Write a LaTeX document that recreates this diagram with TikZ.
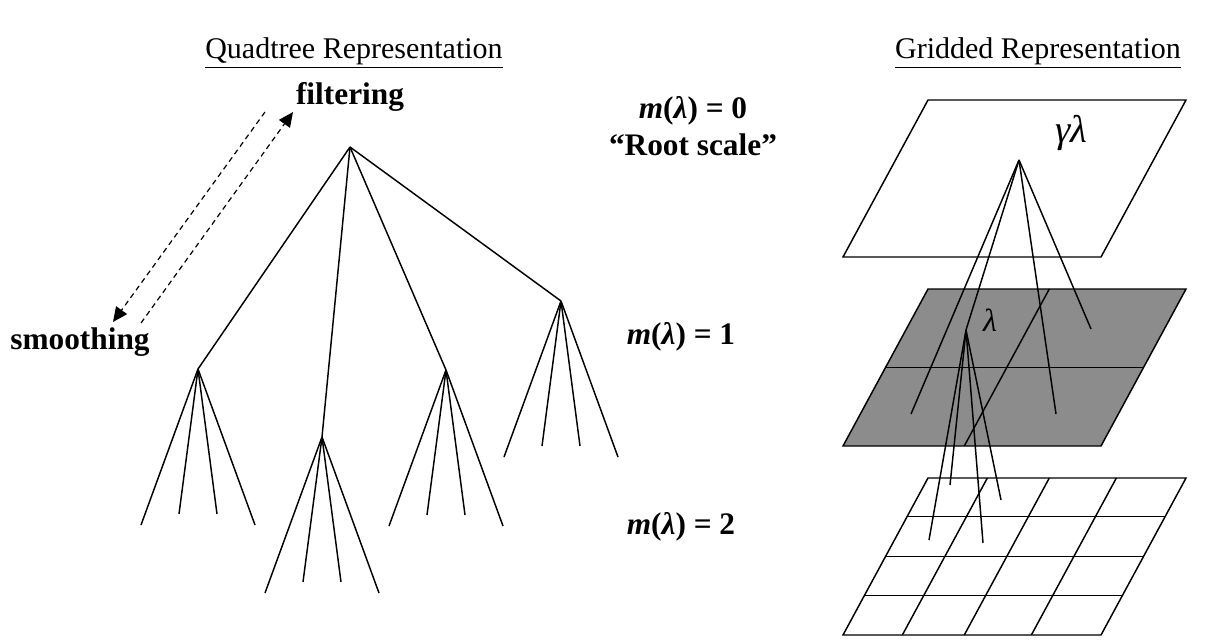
\documentclass[tikz,border=0pt]{standalone}
\usepackage{fontspec}
\setmainfont{Liberation Serif}
\usetikzlibrary{arrows.meta,calc}

\begin{document}
\begin{tikzpicture}[x=0.75pt,y=-0.75pt,
  branch/.style={line width=1.1pt},
  title/.style={font=\fontsize{22.5}{26}\selectfont},
  lbl/.style={font=\fontsize{23.5}{28}\selectfont\bfseries, align=center},
  sym/.style={font=\fontsize{24}{28}\selectfont\itshape},
  plane/.style={draw, line width=1.1pt},
  darrow/.style={-{Triangle[length=11pt,width=10pt]}, dash pattern=on 4pt off 3pt, line width=0.9pt},
]
\useasboundingbox (0,0) rectangle (1220,640);

% titles
\node[title] (qt) at (354,53) {\underline{Quadtree Representation}};
\node[title] (gr) at (1038,53) {\underline{Gridded Representation}};

% quadtree
\coordinate (root) at (350,147);
\coordinate (nA) at (198,369);
\coordinate (nB) at (322,437);
\coordinate (nC) at (446,370);
\coordinate (nD) at (561,301);
\foreach \n in {nA,nB,nC,nD} {
  \draw[branch] (root) -- (\n);
  \foreach \dx/\dy [count=\i] in {-57/156,-19/145,19/145,57/156}
    \draw[branch] (\n) -- ++(\dx,\dy) coordinate (\n-\i);
}

% filtering / smoothing
\node[lbl] (filt) at (350,97) {filtering};
\node[lbl] (smooth) at (80,342) {smoothing};
\coordinate (f1) at (265,112);
\coordinate (s1) at (113,322);
\coordinate (s2) at (141,323);
\coordinate (f2) at (293,112);
\draw[darrow] (f1) -- (s1);
\draw[darrow] (s2) -- (f2);

% scale labels
\node[lbl] (m0) at (693,126) {\textit{m}(\textit{λ}) = 0\\“Root scale”};
\node[lbl] (m1) at (681,337) {\textit{m}(\textit{λ}) = 1};
\node[lbl] (m2) at (681,527) {\textit{m}(\textit{λ}) = 2};

% gridded planes
\foreach \p/\y/\c in {top/100/white,mid/289/black!45,bot/478/white} {
  \coordinate (\p-tl) at (928,\y);
  \coordinate (\p-tr) at (1186,\y);
  \coordinate (\p-br) at (1101,\y+157);
  \coordinate (\p-bl) at (843,\y+157);
  \draw[plane, fill=\c] (\p-tl) -- (\p-tr) -- (\p-br) -- (\p-bl) -- cycle;
}
\draw[branch] ($(mid-tl)!0.5!(mid-bl)$) -- ($(mid-tr)!0.5!(mid-br)$);
\draw[branch] ($(mid-tl)!0.47!(mid-tr)$) -- ($(mid-bl)!0.47!(mid-br)$);
\foreach \u in {0.23,0.47,0.73}
  \draw[branch] ($(bot-tl)!\u!(bot-tr)$) -- ($(bot-bl)!\u!(bot-br)$);
\foreach \v in {0.245,0.5,0.75}
  \draw[branch] ($(bot-tl)!\v!(bot-bl)$) -- ($(bot-tr)!\v!(bot-br)$);

% parent and children
\coordinate (gam) at (1019,160);
\coordinate (lam) at (966,330);
\coordinate (c1) at (911,414);
\coordinate (c3) at (1056,414);
\coordinate (c4) at (1091,329);
\foreach \c in {c1,lam,c3,c4}
  \draw[branch] (gam) -- (\c);
\coordinate (k1) at (929,540);
\coordinate (k2) at (950,485);
\coordinate (k3) at (983,543);
\coordinate (k4) at (1001,500);
\foreach \k in {k1,k2,k3,k4}
  \draw[branch] (lam) -- (\k);
\node[sym, font=\fontsize{29}{32}\selectfont\itshape] (gl) at (1071,133) {γλ};
\node[sym] (l) at (990,320) {λ};

\end{tikzpicture}
\end{document}
